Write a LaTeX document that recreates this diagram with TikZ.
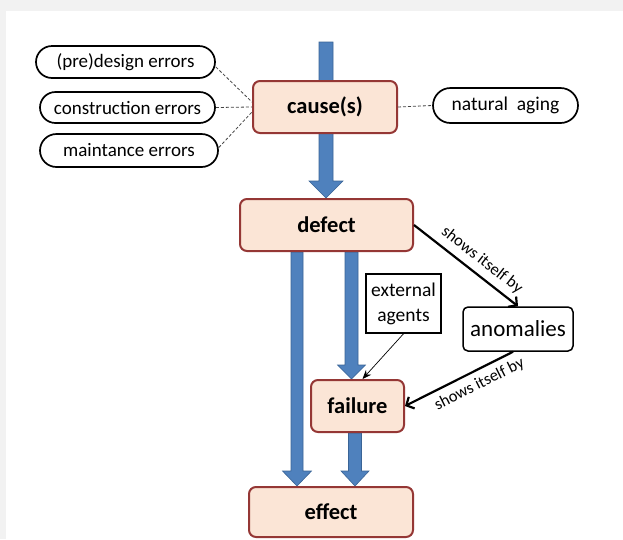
\documentclass[tikz,border=0pt]{standalone}
\usepackage{fontspec}
\setmainfont{Carlito}
\usetikzlibrary{arrows.meta,calc,backgrounds,shapes.misc}
\definecolor{peach}{HTML}{FBE5D6}
\definecolor{boxred}{HTML}{953735}
\definecolor{arrowblue}{HTML}{4F81BD}
\definecolor{arrowedge}{HTML}{3A6496}
\definecolor{bggray}{HTML}{F2F2F2}
\definecolor{dashgray}{HTML}{444444}
\newcommand\blockarrow[6]{% #1 start, #2 end, #3 axis x, #4 half shaft, #5 half head, #6 head length
  \filldraw[bigarrow] let \p1=(#1), \p2=(#2) in
    (#3pt-#4pt,\y1) -- (#3pt+#4pt,\y1) -- (#3pt+#4pt,\y2+#6pt) -- (#3pt+#5pt,\y2+#6pt)
    -- (#3pt,\y2) -- (#3pt-#5pt,\y2+#6pt) -- (#3pt-#4pt,\y2+#6pt) -- cycle;}
\begin{document}
\begin{tikzpicture}[x=1pt,y=-1pt,
  mainbox/.style={draw=boxred, line width=2pt, fill=peach, rounded corners=7pt,
    inner sep=0pt, font=\fontsize{22.5}{26}\selectfont\bfseries},
  oval/.style={rounded rectangle, draw=black, line width=1.7pt, fill=white, inner sep=0pt,
    font=\fontsize{19}{23}\selectfont},
  plainbox/.style={draw=black, line width=1.5pt, fill=white, inner sep=0pt, align=center},
  bigarrow/.style={fill=arrowblue, draw=arrowedge, line width=0.6pt},
  dashline/.style={draw=dashgray, line width=0.8pt, dash pattern=on 3pt off 2pt},
  showarrow/.style={draw=black, line width=2.2pt, -{Straight Barb[length=6pt,width=13pt]}},
  showlabel/.style={font=\fontsize{16.5}{19}\selectfont, inner sep=0pt, sloped}
]
\useasboundingbox (0,0) rectangle (623,539);
\begin{scope}[on background layer]
  \fill[bggray] (0,0) rectangle (623,539);
  \fill[white] (6,11) rectangle (623,539);
\end{scope}

% main boxes
\node[mainbox, minimum width=144pt, minimum height=52pt] (cause) at (325,107) {cause(s)};
\node[mainbox, minimum width=173pt, minimum height=52pt] (defect) at (326.5,225) {defect};
\node[mainbox, minimum width=93pt, minimum height=52pt] (failure) at (357.5,406) {failure};
\node[mainbox, minimum width=164pt, minimum height=50pt] (effect) at (331,512) {effect};

% ovals
\node[oval, minimum width=179pt, minimum height=32pt] (pre) at (125.5,62) {(pre)design errors};
\node[oval, minimum width=175pt, minimum height=31pt] (cons) at (127.5,107.5) {construction errors};
\node[oval, minimum width=178pt, minimum height=33pt] (maint) at (129,150.5) {maintance errors};
\node[oval, minimum width=145pt, minimum height=35pt, font=\fontsize{19.5}{23}\selectfont] (aging) at (505.5,105.5) {natural\ \ aging};

% other boxes
\node[plainbox, minimum width=75pt, minimum height=59pt,
  font=\fontsize{19.5}{25}\selectfont] (ext) at (403.5,303.5) {external\\agents};
\node[plainbox, rounded corners=5pt, minimum width=110pt, minimum height=44pt,
  font=\fontsize{23}{27}\selectfont] (anom) at (518,329) {anomalies};

\coordinate (topstart) at (326,42);

% big blue arrows (behind boxes)
\begin{scope}[on background layer]
  \blockarrow{topstart}{defect.north}{326}{7}{17}{17}
  \blockarrow{defect.south}{effect.north}{297}{6}{14.5}{15}
  \blockarrow{defect.south}{failure.north}{351.5}{6.5}{14}{14}
  \blockarrow{failure.south}{effect.north}{355}{6.5}{14}{15}
\end{scope}

% dashed links
\draw[dashline] ([yshift=-5pt]pre.east) -- ([yshift=5pt]cause.west);
\draw[dashline] (cons.east) -- (cause.west);
\draw[dashline] ([yshift=3pt]maint.east) -- ([yshift=-5pt]cause.west);
\draw[dashline] (cause.east) -- (aging.west);

% shows itself by
\draw[showarrow] (defect.east) -- (anom.north)
  node[showlabel, pos=0.57, above=6pt] {shows itself by};
\draw[showarrow] ([xshift=-5pt]anom.south) -- (failure.east)
  node[showlabel, pos=0.37, below=6pt] {shows itself by};

% external agents
\draw[line width=0.7pt, -{Stealth[length=9pt,width=7pt]}] (ext.south) -- ([xshift=5pt]failure.north);
\end{tikzpicture}
\end{document}
